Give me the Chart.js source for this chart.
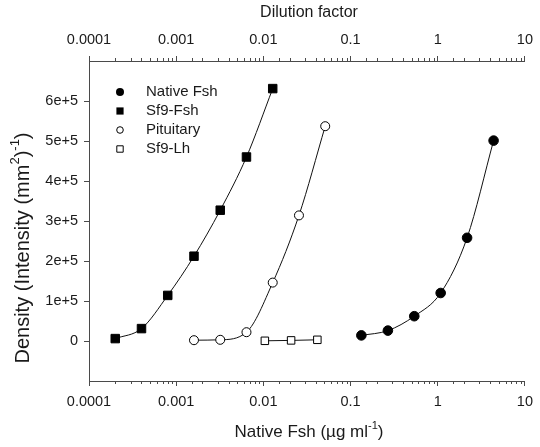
<!DOCTYPE html>
<html>
<head>
<meta charset="utf-8">
<script src="https://cdn.jsdelivr.net/npm/chart.js@4.4.1/dist/chart.umd.min.js"></script>
<style>
  html, body { margin: 0; padding: 0; background: #fff; }
</style>
</head>
<body>
<canvas id="chart" width="540" height="447"></canvas>
<script>
// values (x in µg/ml, y in density units)
const nativeFshX = [0.133, 0.268, 0.538, 1.08, 2.17, 4.37];
const nativeFshY = [14000, 26000, 62000, 120000, 258000, 501000];
const sf9FshX = [0.0002, 0.0004, 0.0008, 0.0016, 0.0032, 0.0064, 0.0128];
const sf9FshY = [6000, 31000, 114000, 212000, 327000, 460000, 631000];
const pituitaryX = [0.0016, 0.0032, 0.0064, 0.0128, 0.0256, 0.0512];
const pituitaryY = [2000, 3000, 22000, 146000, 314000, 537000];
const sf9LhX = [0.0104, 0.0208, 0.0416];
const sf9LhY = [500, 1500, 3000];

const xDecades = [0.0001, 0.001, 0.01, 0.1, 1, 10];
const xTickLabels = ['0.0001', '0.001', '0.01', '0.1', '1', '10'];
const yTickValues = [0, 100000, 200000, 300000, 400000, 500000, 600000];
const yTickLabels = ['0', '1e+5', '2e+5', '3e+5', '4e+5', '5e+5', '6e+5'];

const FONT = "'Liberation Sans', Arial, sans-serif";
const INK = '#1a1a1a';
const AXIS = '#4a4a4a';

Chart.defaults.font.family = FONT;
Chart.defaults.color = INK;

function toPoints(xs, ys) {
  return xs.map((x, i) => ({ x: x, y: ys[i] }));
}

function decadeIndex(v) {
  for (let i = 0; i < xDecades.length; i++) {
    if (Math.abs(v - xDecades[i]) / xDecades[i] < 1e-6) return i;
  }
  return -1;
}

function xLabel(v) {
  const i = decadeIndex(v);
  return i >= 0 ? xTickLabels[i] : '';
}

function yLabel(v) {
  const i = yTickValues.indexOf(v);
  return i >= 0 ? yTickLabels[i] : '';
}

// text with superscript pieces
function drawRich(ctx, parts, x, y, size) {
  let w = 0;
  parts.forEach(p => {
    const s = p.sup ? size * 0.65 : size;
    ctx.font = s + 'px ' + FONT;
    p.w = ctx.measureText(p.t).width;
    w += p.w;
  });
  let cx = x - w / 2;
  parts.forEach(p => {
    const s = p.sup ? size * 0.65 : size;
    ctx.font = s + 'px ' + FONT;
    ctx.fillText(p.t, cx, p.sup ? y - size * 0.38 : y);
    cx += p.w;
  });
}

const decorPlugin = {
  id: 'decor',
  afterDraw(chart) {
    const ctx = chart.ctx;
    const area = chart.chartArea;
    ctx.save();

    // minor ticks (shorter than the decade ticks)
    ctx.strokeStyle = AXIS;
    ctx.lineWidth = 1;
    ['x', 'x2'].forEach(id => {
      const sc = chart.scales[id];
      sc.ticks.forEach(t => {
        if (decadeIndex(t.value) >= 0) return;
        const px = Math.round(sc.getPixelForValue(t.value)) + 0.5;
        ctx.beginPath();
        if (id === 'x') {
          ctx.moveTo(px, area.bottom);
          ctx.lineTo(px, area.bottom + 3);
        } else {
          ctx.moveTo(px, area.top);
          ctx.lineTo(px, area.top - 3);
        }
        ctx.stroke();
      });
    });

    // axis titles
    ctx.fillStyle = INK;
    ctx.textBaseline = 'middle';
    ctx.textAlign = 'left';
    drawRich(ctx, [{ t: 'Dilution factor' }], 309, 13, 16);
    drawRich(ctx, [{ t: 'Native Fsh (\u00b5g ml' }, { t: '-1', sup: true }, { t: ')' }], 309, 432, 17);
    ctx.save();
    ctx.translate(23, 248);
    ctx.rotate(-Math.PI / 2);
    drawRich(ctx, [{ t: 'Density (Intensity (mm' }, { t: '2', sup: true }, { t: ')' }, { t: '-1', sup: true }, { t: ')' }], 0, 0, 20);
    ctx.restore();

    // legend inside the plot
    const rows = [
      { label: 'Native Fsh', style: 'circle', fill: true },
      { label: 'Sf9-Fsh', style: 'rect', fill: true },
      { label: 'Pituitary', style: 'circle', fill: false },
      { label: 'Sf9-Lh', style: 'rect', fill: false }
    ];
    rows.forEach((r, i) => {
      const mx = area.left + 31;
      const my = area.top + 31 + i * 19;
      ctx.beginPath();
      if (r.style === 'circle') {
        ctx.arc(mx, my, r.fill ? 4 : 3.3, 0, Math.PI * 2);
      } else {
        const h = r.fill ? 3.6 : 3.2;
        ctx.rect(mx - h, my - h, h * 2, h * 2);
      }
      if (r.fill) {
        ctx.fillStyle = '#000';
        ctx.fill();
      } else {
        ctx.fillStyle = '#fff';
        ctx.fill();
        ctx.strokeStyle = '#000';
        ctx.lineWidth = 1;
        ctx.stroke();
      }
      ctx.fillStyle = INK;
      ctx.font = '15px ' + FONT;
      ctx.fillText(r.label, area.left + 57, my);
    });

    ctx.restore();
  }
};

function logAxis(position, fitSize) {
  return {
    type: 'logarithmic',
    position: position,
    min: 0.0001,
    max: 10,
    afterFit: s => { s.height = fitSize; },
    border: { color: AXIS, width: 1 },
    grid: {
      drawOnChartArea: false,
      tickLength: 5,
      tickColor: c => (c.tick && decadeIndex(c.tick.value) >= 0 ? AXIS : 'rgba(0,0,0,0)')
    },
    ticks: {
      autoSkip: false,
      maxRotation: 0,
      padding: 7,
      color: INK,
      font: { size: 14.5 },
      callback: v => xLabel(v)
    }
  };
}

function series(label, xs, ys, style, filled, radius) {
  return {
    label: label,
    data: toPoints(xs, ys),
    showLine: true,
    cubicInterpolationMode: 'monotone',
    borderColor: '#111',
    borderWidth: 1,
    pointStyle: style,
    pointRadius: radius,
    pointHoverRadius: radius,
    pointBackgroundColor: filled ? '#000' : '#fff',
    pointBorderColor: '#000',
    pointBorderWidth: 1
  };
}

new Chart(document.getElementById('chart'), {
  type: 'scatter',
  data: {
    datasets: [
      series('Sf9-Lh', sf9LhX, sf9LhY, 'rect', false, 5.3),
      series('Pituitary', pituitaryX, pituitaryY, 'circle', false, 4.5),
      series('Sf9-Fsh', sf9FshX, sf9FshY, 'rect', true, 6),
      series('Native Fsh', nativeFshX, nativeFshY, 'circle', true, 4.8)
    ]
  },
  options: {
    responsive: false,
    animation: false,
    layout: { padding: { left: 0, right: 11, top: 0, bottom: 0 } },
    plugins: {
      legend: { display: false },
      tooltip: { enabled: false }
    },
    scales: {
      x: logAxis('bottom', 66),
      x2: logAxis('top', 61),
      y: {
        type: 'linear',
        position: 'left',
        min: -100000,
        max: 700000,
        afterFit: s => { s.width = 89; },
        border: { color: AXIS, width: 1 },
        grid: {
          drawOnChartArea: false,
          tickLength: 5,
          tickColor: c => (c.tick && yTickValues.indexOf(c.tick.value) >= 0 ? AXIS : 'rgba(0,0,0,0)')
        },
        ticks: {
          stepSize: 100000,
          padding: 6,
          color: INK,
          font: { size: 14.5 },
          callback: v => yLabel(v)
        }
      }
    }
  },
  plugins: [decorPlugin]
});
</script>
</body>
</html>
